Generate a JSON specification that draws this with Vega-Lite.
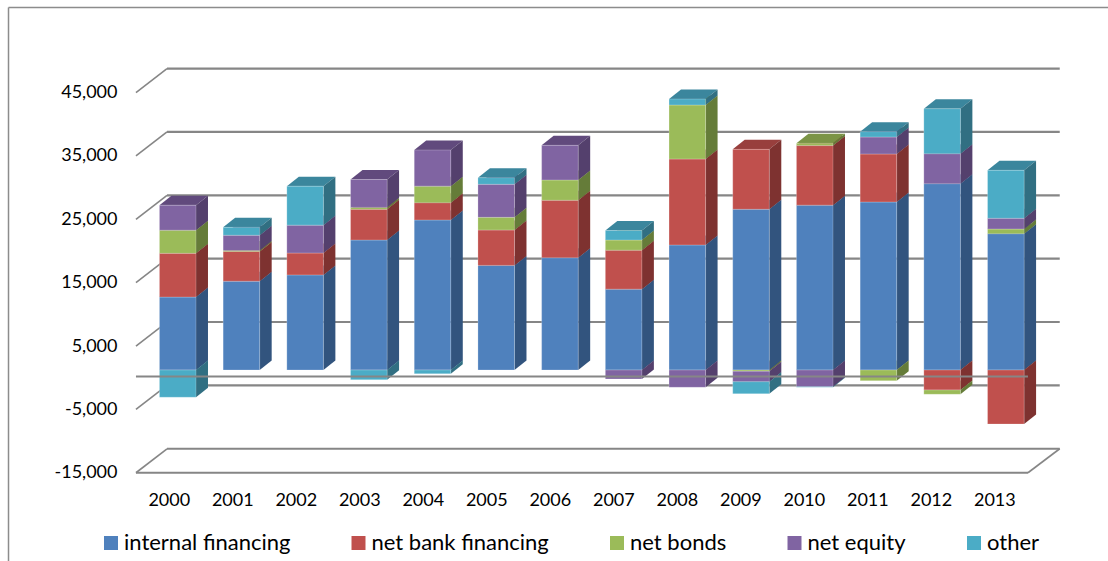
{
  "$schema": "https://vega.github.io/schema/vega-lite/v6.json",
  "width": 1108,
  "height": 561,
  "padding": 0,
  "autosize": {"type": "none"},
  "background": "white",
  "config": {"view": {"stroke": null}, "font": "Lato"},
  "layer": [
    {
      "data": {"values": [{"level": -15000}, {"level": -5000}, {"level": 5000}, {"level": 15000}, {"level": 25000}, {"level": 35000}, {"level": 45000}]},
      "transform": [{"calculate": "datum.level + 3787", "as": "back"}],
      "resolve": {"axis": {"x": "independent", "y": "independent"}},
      "layer": [
        {
          "mark": {"type": "rule", "stroke": "#868686", "strokeWidth": 1.6},
          "encoding": {
            "x": {"datum": 1999.483, "type": "quantitative",
              "scale": {"domain": [1997.342, 2014.79], "nice": false, "zero": false},
              "axis": {"title": null, "orient": "bottom", "offset": -70, "values": [2000, 2001, 2002, 2003, 2004, 2005, 2006, 2007, 2008, 2009, 2010, 2011, 2012, 2013], "format": "d", "grid": false, "domain": false, "ticks": false, "labelPadding": 0, "labelFontSize": 18, "labelFont": "Lato", "labelColor": "#000000", "labelBaseline": "top", "labelOverlap": false}},
            "x2": {"datum": 1999.972},
            "y": {"field": "level", "type": "quantitative",
              "scale": {"domain": [-28925, 59602], "nice": false, "zero": false},
              "axis": {"title": null, "orient": "left", "offset": -117, "values": [-15000, -5000, 5000, 15000, 25000, 35000, 45000], "labelExpr": "replace(format(datum.value, ','), '\u2212', '-')", "grid": false, "domain": false, "ticks": false, "labelPadding": 0, "labelFontSize": 18, "labelFont": "Lato", "labelColor": "#000000", "labelOverlap": false}},
            "y2": {"field": "back"}
          }
        },
        {
          "mark": {"type": "rule", "stroke": "#868686", "strokeWidth": 2.2},
          "encoding": {
            "x": {"datum": 1999.972, "type": "quantitative", "scale": {"domain": [1997.342, 2014.79], "nice": false, "zero": false}, "axis": null},
            "x2": {"datum": 2014.03},
            "y": {"field": "back", "type": "quantitative", "scale": {"domain": [-28925, 59602], "nice": false, "zero": false}, "axis": null}
          }
        },
        {
          "data": {"values": [{"level": -15000, "back": -11213}]},
          "resolve": {"axis": {"x": "independent", "y": "independent"}},
          "layer": [
            {
              "mark": {"type": "rule", "stroke": "#868686", "strokeWidth": 2.2},
              "encoding": {
                "x": {"datum": 1999.483, "type": "quantitative", "scale": {"domain": [1997.342, 2014.79], "nice": false, "zero": false}, "axis": null},
                "x2": {"datum": 2013.53},
                "y": {"field": "level", "type": "quantitative", "scale": {"domain": [-28925, 59602], "nice": false, "zero": false}, "axis": null}
              }
            },
            {
              "mark": {"type": "rule", "stroke": "#868686", "strokeWidth": 1.6},
              "encoding": {
                "x": {"datum": 2013.53, "type": "quantitative", "scale": {"domain": [1997.342, 2014.79], "nice": false, "zero": false}, "axis": null},
                "x2": {"datum": 2014.03},
                "y": {"field": "level", "type": "quantitative", "scale": {"domain": [-28925, 59602], "nice": false, "zero": false}, "axis": null},
                "y2": {"field": "back"}
              }
            }
          ]
        },
        {
          "data": {"values": [{"top": 58420, "bottom": -28925}]},
          "resolve": {"axis": {"x": "independent", "y": "independent"}},
          "layer": [
            {
              "mark": {"type": "rule", "stroke": "#8c8c8c", "strokeWidth": 1.5},
              "encoding": {
                "x": {"datum": 1997.476, "type": "quantitative", "scale": {"domain": [1997.342, 2014.79], "nice": false, "zero": false}, "axis": null},
                "y": {"field": "top", "type": "quantitative", "scale": {"domain": [-28925, 59602], "nice": false, "zero": false}, "axis": null},
                "y2": {"field": "bottom"}
              }
            },
            {
              "mark": {"type": "rule", "stroke": "#8c8c8c", "strokeWidth": 1.5},
              "encoding": {
                "x": {"datum": 1997.476, "type": "quantitative", "scale": {"domain": [1997.342, 2014.79], "nice": false, "zero": false}, "axis": null},
                "x2": {"datum": 2014.79},
                "y": {"field": "top", "type": "quantitative", "scale": {"domain": [-28925, 59602], "nice": false, "zero": false}, "axis": null}
              }
            }
          ]
        }
      ]
    },
    {
      "data": {"values": [
        {"year": 2000, "series": "internal financing", "value": 11500},
        {"year": 2000, "series": "net bank financing", "value": 6900},
        {"year": 2000, "series": "net bonds", "value": 3650},
        {"year": 2000, "series": "net equity", "value": 3950},
        {"year": 2000, "series": "other", "value": -4300},
        {"year": 2001, "series": "internal financing", "value": 14000},
        {"year": 2001, "series": "net bank financing", "value": 4700},
        {"year": 2001, "series": "net bonds", "value": 150},
        {"year": 2001, "series": "net equity", "value": 2400},
        {"year": 2001, "series": "other", "value": 1250},
        {"year": 2002, "series": "internal financing", "value": 15000},
        {"year": 2002, "series": "net bank financing", "value": 3450},
        {"year": 2002, "series": "net equity", "value": 4400},
        {"year": 2002, "series": "other", "value": 6150},
        {"year": 2003, "series": "internal financing", "value": 20500},
        {"year": 2003, "series": "net bank financing", "value": 4850},
        {"year": 2003, "series": "net bonds", "value": 300},
        {"year": 2003, "series": "net equity", "value": 4400},
        {"year": 2003, "series": "other", "value": -1530},
        {"year": 2004, "series": "internal financing", "value": 23660},
        {"year": 2004, "series": "net bank financing", "value": 2730},
        {"year": 2004, "series": "net bonds", "value": 2610},
        {"year": 2004, "series": "net equity", "value": 5700},
        {"year": 2004, "series": "other", "value": -600},
        {"year": 2005, "series": "internal financing", "value": 16500},
        {"year": 2005, "series": "net bank financing", "value": 5580},
        {"year": 2005, "series": "net bonds", "value": 2000},
        {"year": 2005, "series": "net equity", "value": 5210},
        {"year": 2005, "series": "other", "value": 1040},
        {"year": 2006, "series": "internal financing", "value": 17710},
        {"year": 2006, "series": "net bank financing", "value": 9060},
        {"year": 2006, "series": "net bonds", "value": 3200},
        {"year": 2006, "series": "net equity", "value": 5470},
        {"year": 2007, "series": "internal financing", "value": 12750},
        {"year": 2007, "series": "net bank financing", "value": 6150},
        {"year": 2007, "series": "net bonds", "value": 1600},
        {"year": 2007, "series": "net equity", "value": -1420},
        {"year": 2007, "series": "other", "value": 1500},
        {"year": 2008, "series": "internal financing", "value": 19720},
        {"year": 2008, "series": "net bank financing", "value": 13560},
        {"year": 2008, "series": "net bonds", "value": 8520},
        {"year": 2008, "series": "net equity", "value": -2730},
        {"year": 2008, "series": "other", "value": 940},
        {"year": 2009, "series": "internal financing", "value": 25350},
        {"year": 2009, "series": "net bank financing", "value": 9450},
        {"year": 2009, "series": "net bonds", "value": -200},
        {"year": 2009, "series": "net equity", "value": -1650},
        {"year": 2009, "series": "other", "value": -1900},
        {"year": 2010, "series": "internal financing", "value": 26000},
        {"year": 2010, "series": "net bank financing", "value": 9400},
        {"year": 2010, "series": "net bonds", "value": 350},
        {"year": 2010, "series": "net equity", "value": -2630},
        {"year": 2010, "series": "other", "value": -100},
        {"year": 2011, "series": "internal financing", "value": 26500},
        {"year": 2011, "series": "net bank financing", "value": 7570},
        {"year": 2011, "series": "net bonds", "value": -1690},
        {"year": 2011, "series": "net equity", "value": 2680},
        {"year": 2011, "series": "other", "value": 840},
        {"year": 2012, "series": "internal financing", "value": 29390},
        {"year": 2012, "series": "net bank financing", "value": -3150},
        {"year": 2012, "series": "net bonds", "value": -680},
        {"year": 2012, "series": "net equity", "value": 4730},
        {"year": 2012, "series": "other", "value": 7090},
        {"year": 2013, "series": "internal financing", "value": 21500},
        {"year": 2013, "series": "net bank financing", "value": -8520},
        {"year": 2013, "series": "net bonds", "value": 740},
        {"year": 2013, "series": "net equity", "value": 1690},
        {"year": 2013, "series": "other", "value": 7570}
      ]},
      "transform": [
        {"stack": "value", "groupby": ["year"], "sort": [{"field": "series", "order": "ascending"}], "as": ["v0", "v1"], "offset": "zero"}
      ],
      "resolve": {"scale": {"color": "independent"}},
      "layer": [
        {
          "transform": [
            {"calculate": "0", "as": "p0"},
            {"calculate": "1", "as": "p1"},
            {"calculate": "2", "as": "p2"},
            {"calculate": "3", "as": "p3"},
            {"fold": ["p0", "p1", "p2", "p3"], "as": ["corner", "p"]},
            {"calculate": "datum.year - 0.287 + [0, 0.188, 0.574, 0.762][datum.p]", "as": "tx"},
            {"calculate": "max(datum.v0, datum.v1) + [0, 0, 0, 1500][datum.p]", "as": "tlow"},
            {"calculate": "max(datum.v0, datum.v1) + [0, 1500, 1500, 1500][datum.p]", "as": "thigh"}
          ],
          "mark": {"type": "area"},
          "encoding": {
            "x": {"field": "tx", "type": "quantitative", "scale": {"domain": [1997.21, 2014.604], "nice": false, "zero": false}, "axis": null},
            "y": {"field": "tlow", "type": "quantitative", "scale": {"domain": [-30126, 58360], "nice": false, "zero": false}, "axis": null},
            "y2": {"field": "thigh"},
            "detail": {"field": "year", "type": "ordinal"},
            "color": {"field": "series", "type": "nominal", "legend": null,
              "scale": {"domain": ["internal financing", "net bank financing", "net bonds", "net equity", "other"], "range": ["#3E6595", "#983F3D", "#7B9446", "#614A7D", "#3B869D"]}}
          }
        },
        {
          "transform": [
            {"calculate": "0", "as": "near"},
            {"calculate": "1", "as": "far"},
            {"fold": ["near", "far"], "as": ["edge", "t"]},
            {"calculate": "datum.year + 0.287 + datum.t * 0.188", "as": "sx"},
            {"calculate": "datum.v0 + datum.t * 1500", "as": "s0"},
            {"calculate": "datum.v1 + datum.t * 1500", "as": "s1"}
          ],
          "mark": {"type": "area"},
          "encoding": {
            "x": {"field": "sx", "type": "quantitative", "scale": {"domain": [1997.21, 2014.604], "nice": false, "zero": false}, "axis": null},
            "y": {"field": "s0", "type": "quantitative", "scale": {"domain": [-30126, 58360], "nice": false, "zero": false}, "axis": null},
            "y2": {"field": "s1"},
            "detail": {"field": "year", "type": "ordinal"},
            "color": {"field": "series", "type": "nominal", "legend": null,
              "scale": {"domain": ["internal financing", "net bank financing", "net bonds", "net equity", "other"], "range": ["#32547E", "#7E3230", "#657C39", "#54406D", "#316F82"]}}
          }
        },
        {
          "transform": [
            {"calculate": "datum.year - 0.287", "as": "fx0"},
            {"calculate": "datum.year + 0.287", "as": "fx1"}
          ],
          "mark": {"type": "rect", "stroke": "#ffffff", "strokeOpacity": 0.22, "strokeWidth": 1},
          "encoding": {
            "x": {"field": "fx0", "type": "quantitative", "scale": {"domain": [1997.21, 2014.604], "nice": false, "zero": false}, "axis": null},
            "x2": {"field": "fx1"},
            "y": {"field": "v0", "type": "quantitative", "scale": {"domain": [-30126, 58360], "nice": false, "zero": false}, "axis": null},
            "y2": {"field": "v1"},
            "color": {"field": "series", "type": "nominal",
              "scale": {"domain": ["internal financing", "net bank financing", "net bonds", "net equity", "other"], "range": ["#4F81BD", "#C0504D", "#9BBB59", "#8064A2", "#4BACC6"]},
              "legend": {"title": null, "orient": "none", "legendX": 100, "legendY": 532, "direction": "horizontal", "columns": 5, "columnPadding": 56.5, "symbolType": "square", "symbolSize": 196, "symbolStrokeWidth": 0, "labelFontSize": 22, "labelFont": "Lato", "labelColor": "#000000", "labelOffset": 2, "labelLimit": 400, "padding": 0}}
          }
        }
      ]
    },
    {
      "data": {"values": [{"level": 200}]},
      "mark": {"type": "rule", "stroke": "#868686", "strokeWidth": 2},
      "encoding": {
        "x": {"datum": 1999.483, "type": "quantitative", "scale": {"domain": [1997.342, 2014.79], "nice": false, "zero": false}, "axis": null},
        "x2": {"datum": 2013.53},
        "y": {"field": "level", "type": "quantitative", "scale": {"domain": [-28925, 59602], "nice": false, "zero": false}, "axis": null}
      }
    }
  ],
  "resolve": {"scale": {"x": "independent", "y": "independent"}}
}
